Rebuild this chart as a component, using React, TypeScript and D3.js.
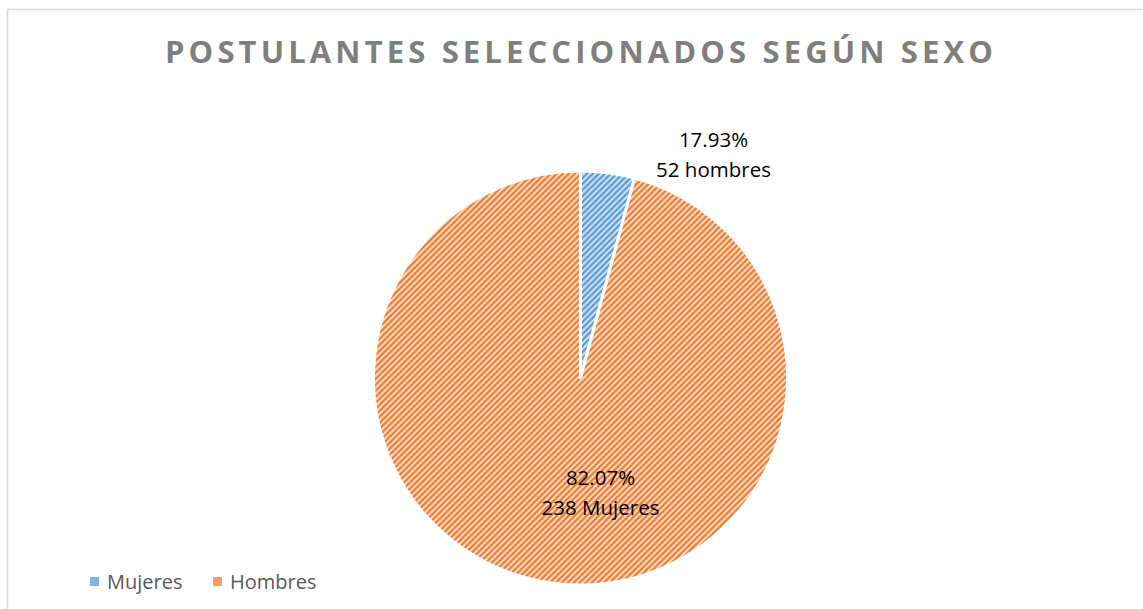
import React from "react";
import * as d3 from "d3";

const categories = ["Mujeres", "Hombres"];
// slice sizes as drawn in the reference
const sliceValues = [4.2, 95.8];
const percentLabels = ["17.93%", "82.07%"];
const countLabels = ["52 hombres", "238 Mujeres"];

const W = 1143;
const H = 609;
const cx = 580.5;
const cy = 378;
const R = 207;

const stripeColors = ["#5B9BD5", "#ED7D31"];
const bgColors = ["#DDEAF7", "#FCE4D6"];

// label anchor offsets relative to pie centre (layout only)
const labelPos = [
  { x: 133, y: -231 },
  { x: 20, y: 107 },
];

export default function App() {
  const pie = d3.pie<number>().sort(null).value((d) => d);
  const arcs = pie(sliceValues);
  const arc = d3.arc<d3.PieArcDatum<number>>().innerRadius(0).outerRadius(R);

  return (
    <svg width={W} height={H} style={{ display: "block", position: "absolute", left: 0, top: 0 }}>
      <defs>
        {categories.map((c, i) => (
          <pattern key={c} id={`pat${i}`} patternUnits="userSpaceOnUse" width={6} height={6}>
            <rect width={6} height={6} fill={bgColors[i]} />
            <path
              d="M0,6 L6,0 M-1.5,1.5 L1.5,-1.5 M4.5,7.5 L7.5,4.5"
              stroke={stripeColors[i]}
              strokeWidth={2.4}
            />
          </pattern>
        ))}
      </defs>
      <rect x={0} y={0} width={W} height={H} fill="#fff" />
      <path d={`M7.5,${H} L7.5,9.5 L${W},9.5`} fill="none" stroke="#D9D9D9" strokeWidth={1.5} />
      <text
        x={579}
        y={63}
        textAnchor="middle"
        fontFamily="'Open Sans', sans-serif"
        fontWeight="bold"
        fontSize={31}
        fill="#7F7F7F"
        textLength={828}
        lengthAdjust="spacing"
      >
        POSTULANTES SELECCIONADOS SEGÚN SEXO
      </text>
      <g transform={`translate(${cx},${cy})`}>
        {arcs.map((a, i) => (
          <path key={i} d={arc(a) || ""} fill={`url(#pat${i})`} stroke="#fff" strokeWidth={3} strokeLinejoin="round" />
        ))}
        {arcs.map((a, i) => (
          <text
            key={"l" + i}
            x={labelPos[i].x}
            y={labelPos[i].y}
            textAnchor="middle"
            fontFamily="'Open Sans', sans-serif"
            fontSize={20.5}
            fill="#000"
          >
            <tspan x={labelPos[i].x}>{percentLabels[i]}</tspan>
            <tspan x={labelPos[i].x} dy={30}>{countLabels[i]}</tspan>
          </text>
        ))}
      </g>
      <g fontFamily="'Open Sans', sans-serif" fontSize={20} fill="#595959">
        {categories.map((c, i) => {
          const x0 = i === 0 ? 90 : 213;
          return (
            <g key={c}>
              <rect x={x0} y={577} width={9} height={9} fill={stripeColors[i]} fillOpacity={0.75} />
              <text x={x0 + 17} y={589}>{c}</text>
            </g>
          );
        })}
      </g>
    </svg>
  );
}
